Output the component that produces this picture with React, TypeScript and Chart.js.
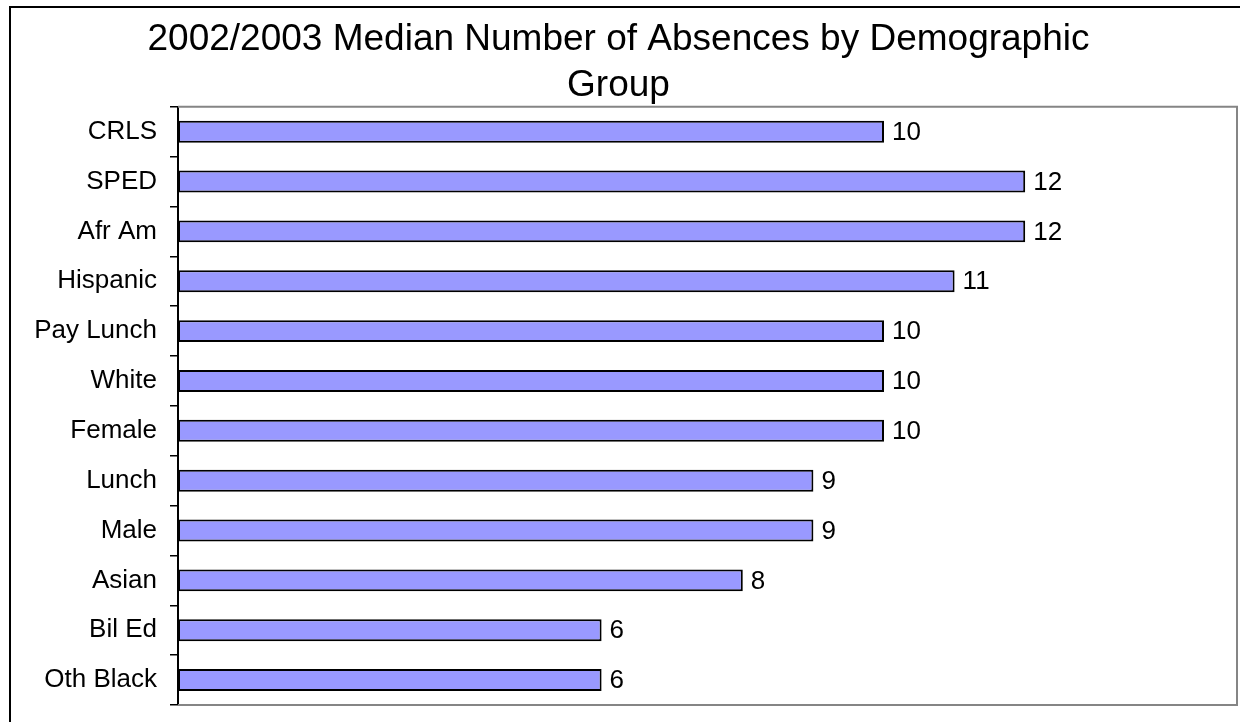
import React, { useEffect, useRef } from "react";
import { Chart, registerables } from "chart.js";

Chart.register(...registerables);

const titleLines = ["2002/2003 Median Number of Absences by Demographic", "Group"];
const categories = [
  "CRLS",
  "SPED",
  "Afr Am",
  "Hispanic",
  "Pay Lunch",
  "White",
  "Female",
  "Lunch",
  "Male",
  "Asian",
  "Bil Ed",
  "Oth Black",
];
const medianAbsences = [10, 12, 12, 11, 10, 10, 10, 9, 9, 8, 6, 6];
const xMin = 0;
const xMax = 15;

const FONT = "'Liberation Sans', Arial, Helvetica, sans-serif";

const framePlugin = {
  id: "frame",
  beforeDraw(chart: any) {
    const ctx = chart.ctx;
    ctx.save();
    ctx.fillStyle = "#ffffff";
    ctx.fillRect(0, 0, chart.width, chart.height);
    ctx.strokeStyle = "#000000";
    ctx.lineWidth = 2;
    ctx.strokeRect(10, 7, chart.width + 50, chart.height + 50);
    ctx.restore();
  },
  afterDatasetsDraw(chart: any) {
    const ctx = chart.ctx;
    const a = chart.chartArea;
    ctx.save();
    ctx.strokeStyle = "#858585";
    ctx.lineWidth = 2;
    ctx.beginPath();
    ctx.moveTo(a.left, a.top);
    ctx.lineTo(a.right, a.top);
    ctx.lineTo(a.right, a.bottom);
    ctx.lineTo(a.left, a.bottom);
    ctx.stroke();
    ctx.restore();
  },
};

const valueLabelPlugin = {
  id: "valueLabels",
  afterDatasetsDraw(chart: any) {
    const ctx = chart.ctx;
    const meta = chart.getDatasetMeta(0);
    const data = chart.data.datasets[0].data;
    ctx.save();
    ctx.fillStyle = "#000000";
    ctx.font = `26px ${FONT}`;
    ctx.textAlign = "left";
    ctx.textBaseline = "middle";
    meta.data.forEach((bar: any, i: number) => {
      ctx.fillText(String(data[i]), bar.x + 8, bar.y + 1);
    });
    ctx.restore();
  },
};

export default function App() {
  const canvasRef = useRef<HTMLCanvasElement | null>(null);

  useEffect(() => {
    if (!canvasRef.current) return;
    const chart = new Chart(canvasRef.current, {
      type: "bar",
      data: {
        labels: categories,
        datasets: [
          {
            data: medianAbsences,
            backgroundColor: "#9999ff",
            borderColor: "#000000",
            borderWidth: 2,
            borderSkipped: false,
            barPercentage: 0.44,
            categoryPercentage: 1,
          },
        ],
      },
      options: {
        indexAxis: "y",
        animation: false,
        responsive: false,
        maintainAspectRatio: false,
        layout: { padding: { left: 0, right: 3, top: 0, bottom: 17 } },
        plugins: {
          legend: { display: false },
          tooltip: { enabled: false },
          title: {
            display: true,
            text: titleLines,
            color: "#000000",
            font: { family: FONT, size: 37, weight: "normal", lineHeight: 1.24 },
            padding: { top: 17, bottom: -2 },
          },
        },
        scales: {
          x: {
            min: xMin,
            max: xMax,
            display: false,
          },
          y: {
            afterFit(scale: any) {
              scale.width = 178;
              scale.paddingTop = 0;
              scale.paddingBottom = 0;
            },
            border: { display: true, color: "#000000", width: 2 },
            grid: {
              display: true,
              offset: true,
              drawOnChartArea: false,
              drawTicks: true,
              tickLength: 8,
              color: "#000000",
              lineWidth: 1.5,
            },
            ticks: {
              color: "#000000",
              font: { family: FONT, size: 26 },
              padding: 13,
            },
          },
        },
      },
      plugins: [framePlugin, valueLabelPlugin],
    });
    return () => chart.destroy();
  }, []);

  return (
    <div style={{ position: "fixed", left: 0, top: 0, width: 1240, height: 722 }}>
      <canvas ref={canvasRef} width={1240} height={722} style={{ width: 1240, height: 722 }} />
    </div>
  );
}
